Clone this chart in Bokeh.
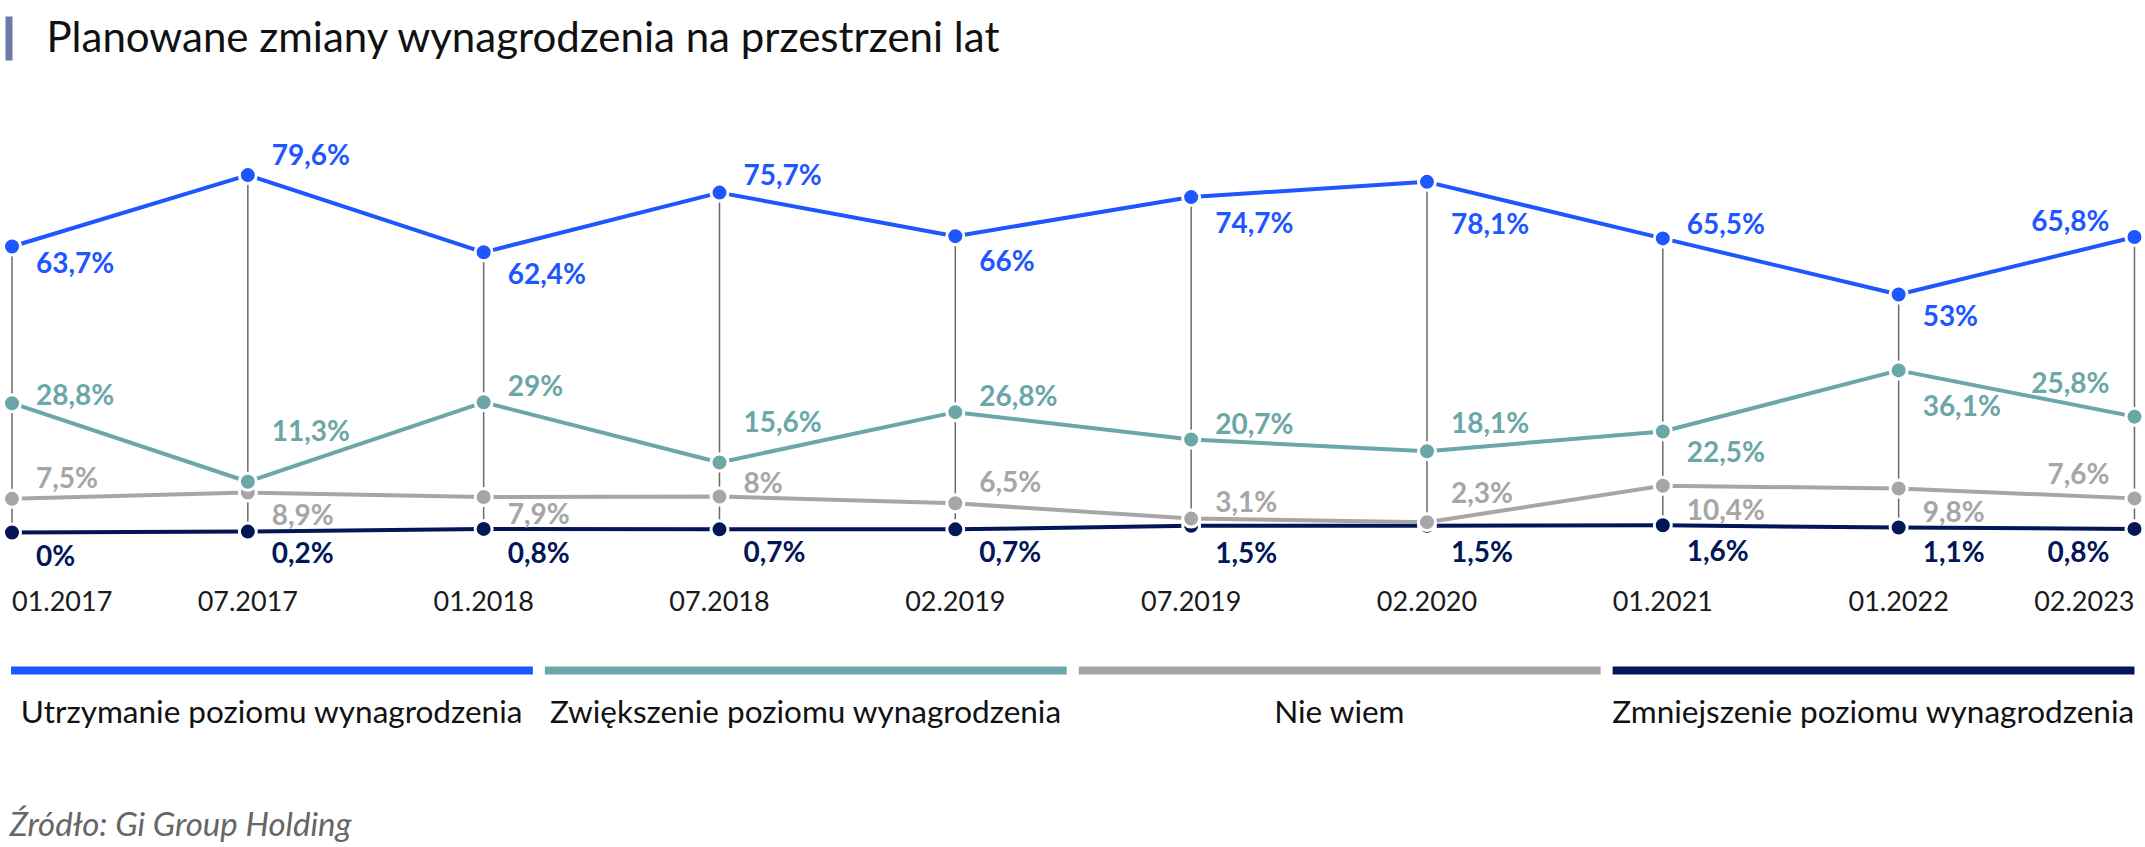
from bokeh.plotting import figure
from bokeh.models import ColumnDataSource, Label, BoxAnnotation, Range1d
from bokeh.core.properties import value
from bokeh.embed import file_html
from bokeh.resources import INLINE

# ---------------- data ----------------
periods = ["01.2017", "07.2017", "01.2018", "07.2018", "02.2019",
           "07.2019", "02.2020", "01.2021", "01.2022", "02.2023"]
utrzymanie = [63.7, 79.6, 62.4, 75.7, 66.0, 74.7, 78.1, 65.5, 53.0, 65.8]
zwiekszenie = [28.8, 11.3, 29.0, 15.6, 26.8, 20.7, 18.1, 22.5, 36.1, 25.8]
nie_wiem = [7.5, 8.9, 7.9, 8.0, 6.5, 3.1, 2.3, 10.4, 9.8, 7.6]
zmniejszenie = [0.0, 0.2, 0.8, 0.7, 0.7, 1.5, 1.5, 1.6, 1.1, 0.8]
series_names = ["Utrzymanie poziomu wynagrodzenia",
                "Zwiększenie poziomu wynagrodzenia",
                "Nie wiem",
                "Zmniejszenie poziomu wynagrodzenia"]
title_text = "Planowane zmiany wynagrodzenia na przestrzeni lat"
source_text = "Źródło: Gi Group Holding"

# ---------------- styles ----------------
colors = ["#1E56FF", "#6BA6A8", "#A6A6A6", "#031757"]
# vertical placement of value labels (px, positive = down, text centre vs point)
label_dy = [
    [16, -21, 21, -19, 24, 25, 41, -15, 20, -17],
    [-9, -52, -17, -41, -17, -17, -29, 20, 35, -35],
    [-22, 21, 16, -15, -22, -18, -30, 23, 23, -25],
    [22, 20, 23, 22, 22, 26, 25, 25, 23, 22],
]
W, H = 2145, 847
FONT = value("Lato")
FONT_NAME = "Lato"

n = len(periods)
idx = list(range(n))
px_per_x = 235.83
px_per_y = 4.49
x_left_px = 11.5      # screen x of first period
zero_px = 532         # screen y (from top) of value 0

p = figure(width=W, height=H, output_backend="svg", toolbar_location=None,
           x_axis_location=None, y_axis_location=None, min_border=0,
           x_range=Range1d(-x_left_px / px_per_x, (W - x_left_px) / px_per_x),
           y_range=Range1d(-(H - zero_px) / px_per_y, zero_px / px_per_y))
p.outline_line_color = None
p.xgrid.visible = False
p.ygrid.visible = False
p.background_fill_color = "white"
p.border_fill_color = "white"


def sy(y_top):
    # y measured from the top of the page -> screen y from bottom of canvas
    return H - y_top


def fmt(v):
    s = f"{v:.1f}".rstrip("0").rstrip(".")
    return s.replace(".", ",") + "%"


series = [utrzymanie, zwiekszenie, nie_wiem, zmniejszenie]

# vertical connectors
p.segment(x0=idx, y0=utrzymanie, x1=idx, y1=zmniejszenie,
          line_color="#6A6A6A", line_width=1.5)

# lines (bottom series first)
for vals, col in reversed(list(zip(series, colors))):
    p.line(idx, vals, line_color=col, line_width=4, line_join="round")
for vals, col in reversed(list(zip(series, colors))):
    p.scatter(idx, vals, size=17, fill_color=col, line_color="white", line_width=3)

# value labels
for vals, col, dys in zip(series, colors, label_dy):
    src = ColumnDataSource(dict(
        x=idx, y=vals, t=[fmt(v) for v in vals],
        dx=[24] * (n - 1) + [-25],
        dy=dys,
        al=["left"] * (n - 1) + ["right"],
    ))
    p.text(x="x", y="y", text="t", source=src, x_offset="dx", y_offset="dy",
           text_align="al", text_baseline="middle",
           text_font=FONT, text_font_style="bold", text_font_size="28px",
           text_color=col)

# period labels under the chart
tsrc = ColumnDataSource(dict(
    x=idx, y=[0] * n, t=periods,
    al=["left"] + ["center"] * (n - 2) + ["right"],
))
p.text(x="x", y="y", text="t", source=tsrc, y_offset=68, text_align="al",
       text_baseline="middle", text_font=FONT, text_font_size="27px",
       text_color="#1A1A1A")

# title
p.add_layout(BoxAnnotation(left=5, right=12, top=sy(16), bottom=sy(60),
                           left_units="screen", right_units="screen",
                           top_units="screen", bottom_units="screen",
                           fill_color="#6B7AA6", fill_alpha=1, line_color=None))
p.add_layout(Label(x=46, y=sy(35), x_units="screen", y_units="screen",
                   text=title_text, text_font=FONT_NAME, text_font_size="42px",
                   text_font_style="normal", text_color="#111111",
                   text_baseline="middle"))

# legend bars + labels
gap = 12 / px_per_x
x0 = -1 / px_per_x
x1 = n - 1
seg = (x1 - x0 - 3 * gap) / 4
for k, (name, col) in enumerate(zip(series_names, colors)):
    left = x0 + k * (seg + gap)
    right = left + seg
    p.add_layout(BoxAnnotation(left=left, right=right, top=sy(666), bottom=sy(674),
                               top_units="screen", bottom_units="screen",
                               fill_color=col, fill_alpha=1, line_color=None))
    p.add_layout(Label(x=(left + right) / 2, y=sy(710), y_units="screen",
                       text=name, text_align="center", text_baseline="middle",
                       text_font=FONT_NAME, text_font_size="31.5px",
                       text_color="#111111"))

# source
p.add_layout(Label(x=9, y=sy(822), x_units="screen", y_units="screen",
                   text=source_text, text_font=FONT_NAME, text_font_size="33px",
                   text_font_style="italic", text_color="#666666",
                   text_baseline="middle"))

open("out.html", "w").write(file_html(p, INLINE))
